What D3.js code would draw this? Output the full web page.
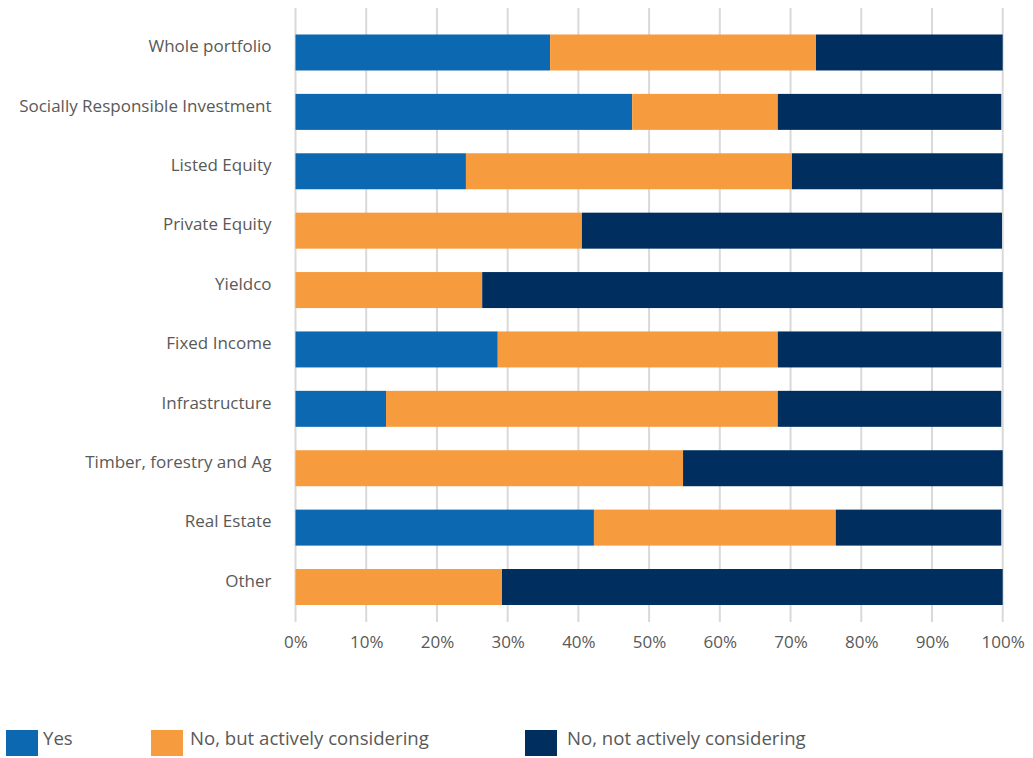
<!DOCTYPE html>
<html>
<head>
<meta charset="utf-8">
<script src="https://cdn.jsdelivr.net/npm/d3@7"></script>
<style>
  body { margin: 0; background: #fff; }
  svg text { font-family: "Open Sans", sans-serif; fill: #595959; }
</style>
</head>
<body>
<svg id="chart" width="1033" height="758"></svg>
<script>
// data (percent)
const categories = ['Whole portfolio', 'Socially Responsible Investment', 'Listed Equity',
  'Private Equity', 'Yieldco', 'Fixed Income', 'Infrastructure',
  'Timber, forestry and Ag', 'Real Estate', 'Other'];
const yes = [36.0, 47.6, 24.1, 0, 0, 28.6, 12.8, 0, 42.2, 0];
const considering = [37.6, 20.6, 46.1, 40.5, 26.4, 39.6, 55.4, 54.8, 34.2, 29.2];
const notConsidering = [26.4, 31.6, 29.8, 59.4, 73.6, 31.6, 31.6, 45.2, 23.4, 70.8];
const seriesNames = ['Yes', 'No, but actively considering', 'No, not actively considering'];
const colors = ['#0b68b1', '#f79c3e', '#002f5f'];
const xTicks = [0, 10, 20, 30, 40, 50, 60, 70, 80, 90, 100];

const svg = d3.select('#chart');
const left = 295.5, right = 1002.7;

const x = d3.scaleLinear().domain([0, 100]).range([left, right]);
const y = d3.scaleBand()
  .domain(categories)
  .range([22.8, 616.7])
  .paddingInner(0.394)
  .paddingOuter(0.197);

// vertical grid lines
svg.append('g')
  .selectAll('line')
  .data(xTicks)
  .enter()
  .append('line')
  .attr('x1', d => x(d))
  .attr('x2', d => x(d))
  .attr('y1', 8)
  .attr('y2', 622)
  .attr('stroke', '#d9d9d9')
  .attr('stroke-width', 2);

// x axis labels
const xAxis = d3.axisBottom(x)
  .tickValues(xTicks)
  .tickSize(0)
  .tickPadding(0)
  .tickFormat(d => d + '%');
const xg = svg.append('g')
  .attr('transform', 'translate(0, 631)')
  .call(xAxis);
xg.select('.domain').remove();
xg.selectAll('text')
  .attr('dy', '1em')
  .style('font-size', '17px');

// stacked bars
const rows = categories.map((c, i) => ({ cat: c, vals: [yes[i], considering[i], notConsidering[i]] }));
rows.forEach(r => {
  let acc = 0;
  r.vals.forEach((v, k) => {
    if (v > 0) {
      svg.append('rect')
        .attr('x', x(acc))
        .attr('y', y(r.cat))
        .attr('width', x(acc + v) - x(acc))
        .attr('height', y.bandwidth())
        .attr('fill', colors[k]);
    }
    acc += v;
  });
});

// category labels
const yAxis = d3.axisLeft(y).tickSize(0).tickPadding(24);
const yg = svg.append('g')
  .attr('transform', `translate(${left}, 0)`)
  .call(yAxis);
yg.select('.domain').remove();
yg.selectAll('text')
  .attr('dy', '-0.02em')
  .style('font-size', '17px');

// legend
const legendX = [6, 151, 525];
const legendTextX = [37, 39, 42];
const legend = svg.append('g')
  .selectAll('g')
  .data(seriesNames)
  .enter()
  .append('g')
  .attr('transform', (d, i) => `translate(${legendX[i]}, 730)`);
legend.append('rect')
  .attr('width', 32)
  .attr('height', 26)
  .attr('fill', (d, i) => colors[i]);
legend.append('text')
  .attr('x', (d, i) => legendTextX[i])
  .attr('y', 15)
  .style('font-size', '18.6px')
  .text(d => d);
</script>
</body>
</html>
